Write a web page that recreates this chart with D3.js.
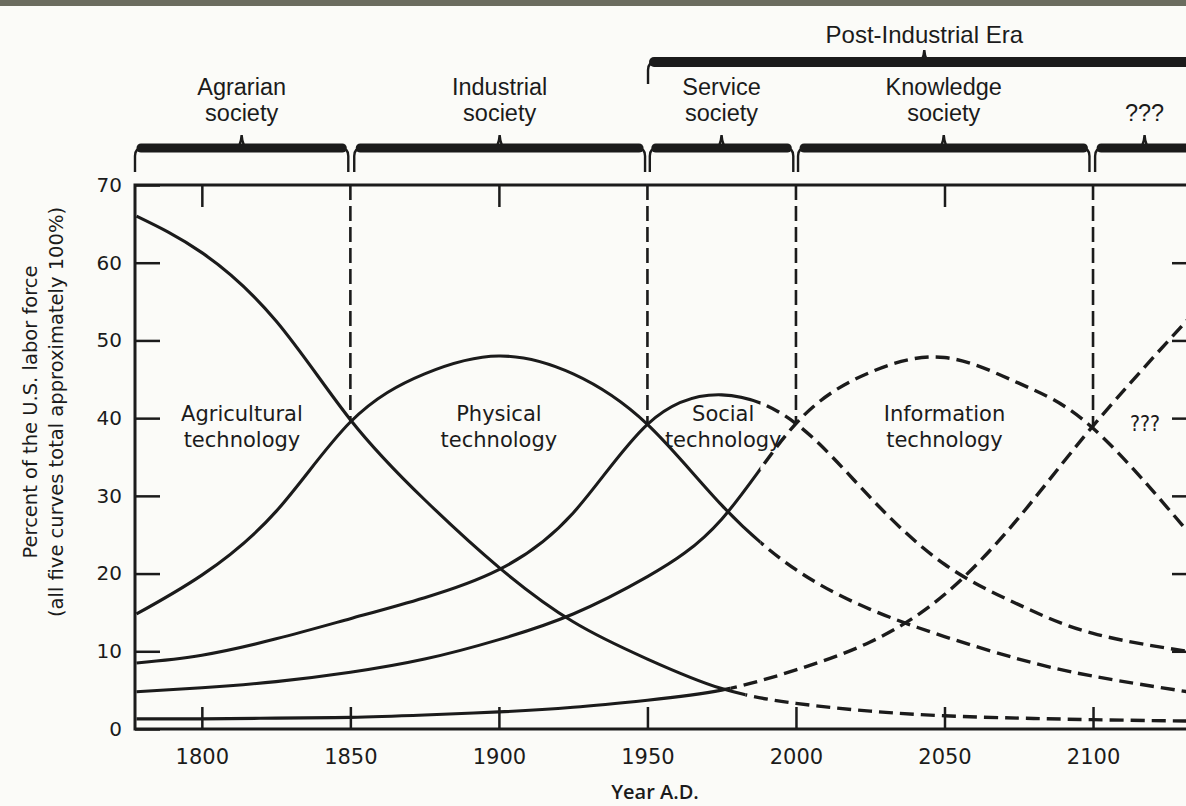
<!DOCTYPE html>
<html><head><meta charset="utf-8">
<script src="https://cdn.jsdelivr.net/npm/d3@7"></script>
<style>
html,body{margin:0;padding:0;background:#fbfbf8;}
svg{display:block;}
</style></head><body>
<svg id="chart" width="1186" height="806"></svg>
<script>
// ---------------- data ----------------
const years        = [1778, 1800, 1825, 1850, 1875, 1900, 1925, 1950, 1975, 2000, 2025, 2050, 2075, 2100, 2135];
const agricultural = [66,   61.3, 52.5, 39.8, 29.5, 20.8, 13.8, 9.0,  5.2,  3.3,  2.3,  1.7,  1.4,  1.2,  1.0];
const physical     = [14.8, 19.8, 28,   39.5, 45.7, 48,   45.7, 39.2, 28.8, 20.5, 15.4, 11.9, 9.0,  6.8,  4.6];
const social       = [8.5,  9.5,  11.6, 14.2, 16.9, 20.5, 27.8, 39.2, 43,   39.3, 29.8, 21.2, 16,   12.3, 9.8];
const information  = [4.8,  5.3,  6.1,  7.3,  9.0,  11.5, 14.8, 19.6, 27,   39.3, 45.9, 47.8, 44.5, 38.7, 24];
const unknownTech  = [1.3,  1.3,  1.4,  1.5,  1.8,  2.2,  2.8,  3.7,  5.0,  7.6,  11.2, 17.3, 27.2, 39,   54];
const seriesList   = [agricultural, physical, social, information, unknownTech];
const solidUntil   = [1983, 1988, 1988, 1988, 1978];   // after these years the curves are projections (dashed)

const techLabels   = [["Agricultural","technology"],["Physical","technology"],["Social","technology"],["Information","technology"],["???"]];
const techLabelYr  = [1813.5, 1900, 1975.5, 2050, 2117.5];

const xTicks       = [1800, 1850, 1900, 1950, 2000, 2050, 2100];
const topTicks     = [1800, 1900, 2050];
const yTicks       = [0, 10, 20, 30, 40, 50, 60, 70];
const dividerYears = [1850, 1950, 2000, 2100];
const dividerVals  = [39.6, 39.2, 39.3, 38.8];

const societies     = [["Agrarian","society"],["Industrial","society"],["Service","society"],["Knowledge","society"],["???"]];
const societySpans  = [[1777.5,1849.3],[1851.3,1949.2],[1950.8,1999.1],[2000.7,2098.8],[2100.7,2134]];
const eraLabel      = "Post-Industrial Era";
const eraSpan       = [1950.2, 2136.2];

const yTitle = ["Percent of the U.S. labor force", "(all five curves total approximately 100%)"];
const xTitle = "Year A.D.";

// ---------------- drawing ----------------
const W = 1186, H = 806;
const ink = "#1b1b1b";
const x = d3.scaleLinear().domain([1777.5, 2135]).range([135, 1197]);
const y = d3.scaleLinear().domain([0, 70]).range([729, 185]);

const svg = d3.select("#chart");
svg.append("rect").attr("width", W).attr("height", H).attr("fill", "#fbfbf8");
svg.append("rect").attr("width", W).attr("height", 6).attr("fill", "#6b6c5f");

const defs = svg.append("defs");

// frame
svg.append("rect")
  .attr("x", x.range()[0]).attr("y", y.range()[1])
  .attr("width", x.range()[1] - x.range()[0]).attr("height", y.range()[0] - y.range()[1])
  .attr("fill", "none").attr("stroke", ink).attr("stroke-width", 3);

// axes (ticks inside)
function styleAxis(g) {
  g.select(".domain").remove();
  g.selectAll(".tick line").attr("stroke", ink).attr("stroke-width", 2.5);
  g.selectAll(".tick text").attr("fill", ink);
}
svg.append("g").attr("transform", `translate(0,${y(0)})`)
  .call(d3.axisBottom(x).tickValues(xTicks).tickSizeInner(-22).tickSizeOuter(0).tickPadding(20).tickFormat(d3.format("d")))
  .call(styleAxis)
  .selectAll("text").style("font-family", "DejaVu Sans").style("font-size", "21px");

svg.append("g").attr("transform", `translate(0,${y(70)})`)
  .call(d3.axisTop(x).tickValues(topTicks).tickSizeInner(-22).tickSizeOuter(0).tickFormat(""))
  .call(styleAxis);

svg.append("g").attr("transform", `translate(${x.range()[0]},0)`)
  .call(d3.axisLeft(y).tickValues(yTicks).tickSizeInner(-25).tickSizeOuter(0).tickPadding(13))
  .call(styleAxis)
  .selectAll("text").style("font-family", "DejaVu Sans").style("font-size", "20px");

svg.append("g").attr("transform", `translate(${x.range()[1]},0)`)
  .call(d3.axisRight(y).tickValues(yTicks.slice(1, -1)).tickSizeInner(-25).tickSizeOuter(0).tickFormat(""))
  .call(styleAxis);

// vertical dashed era dividers
svg.append("g").selectAll("line").data(dividerYears).join("line")
  .attr("x1", d => x(d)).attr("x2", d => x(d))
  .attr("y1", y(70)).attr("y2", (d, i) => y(dividerVals[i]))
  .attr("stroke", ink).attr("stroke-width", 2.6).attr("stroke-dasharray", "15,6");

// curves
const line = d3.line()
  .x((d, i) => x(years[i]))
  .y(d => y(d))
  .curve(d3.curveNatural);

seriesList.forEach((vals, i) => {
  const cut = x(solidUntil[i]);
  defs.append("clipPath").attr("id", "solid" + i)
    .append("rect").attr("x", 0).attr("y", 0).attr("width", cut).attr("height", H);
  defs.append("clipPath").attr("id", "dash" + i)
    .append("rect").attr("x", cut).attr("y", 0).attr("width", W - cut).attr("height", H);
  svg.append("path").datum(vals).attr("d", line)
    .attr("clip-path", `url(#solid${i})`)
    .attr("fill", "none").attr("stroke", ink).attr("stroke-width", 3.1);
  svg.append("path").datum(vals).attr("d", line)
    .attr("clip-path", `url(#dash${i})`)
    .attr("fill", "none").attr("stroke", ink).attr("stroke-width", 3.4)
    .attr("stroke-dasharray", "14,7");
});

// curve labels
techLabels.forEach((lines, i) => {
  const two = lines.length > 1;
  const t = svg.append("text")
    .attr("x", x(techLabelYr[i]))
    .attr("y", two ? y(39.6) : y(38.4))
    .attr("text-anchor", "middle")
    .style("font-family", two ? "DejaVu Sans" : "DejaVu Sans Condensed")
    .style("font-size", "21px")
    .attr("fill", ink);
  lines.forEach((s, k) => {
    t.append("tspan").attr("x", x(techLabelYr[i])).attr("dy", k === 0 ? 0 : 26).text(s);
  });
});

// braces
function bracePath(x0, x1, yb, drop, spike) {
  const xc = (x0 + x1) / 2, r = 8;
  return `M${x0},${yb + drop} L${x0},${yb + r} Q${x0},${yb} ${x0 + r},${yb}` +
         ` L${xc - 7},${yb} Q${xc - 1},${yb} ${xc},${yb - spike} Q${xc + 1},${yb} ${xc + 7},${yb}` +
         ` L${x1 - r},${yb} Q${x1},${yb} ${x1},${yb + r} L${x1},${yb + drop}`;
}
function drawBrace(x0, x1, yb, drop, spike, thick) {
  const g = svg.append("g");
  g.append("path").attr("d", bracePath(x0, x1, yb, drop, spike))
    .attr("fill", "none").attr("stroke", ink).attr("stroke-width", 2.4);
  g.append("line").attr("x1", x0 + 6).attr("x2", x1 - 6).attr("y1", yb).attr("y2", yb)
    .attr("stroke", ink).attr("stroke-width", thick).attr("stroke-linecap", "round");
}

societySpans.forEach((s, i) => {
  drawBrace(x(s[0]), x(s[1]), 148, 24, 13, 9);
  const cx = (x(s[0]) + x(s[1])) / 2;
  const lines = societies[i];
  const t = svg.append("text").attr("text-anchor", "middle")
    .style("font-family", "Liberation Sans, Arial, sans-serif").style("font-size", "23.5px")
    .attr("fill", ink)
    .attr("y", lines.length > 1 ? 95 : 121);
  lines.forEach((str, k) => t.append("tspan").attr("x", cx).attr("dy", k === 0 ? 0 : 26).text(str));
});

drawBrace(x(eraSpan[0]), x(eraSpan[1]), 62, 22, 12, 10);
svg.append("text")
  .attr("x", (x(eraSpan[0]) + x(eraSpan[1])) / 2).attr("y", 43)
  .attr("text-anchor", "middle")
  .style("font-family", "Liberation Sans, Arial, sans-serif").style("font-size", "24px")
  .attr("fill", ink).text(eraLabel);

// axis titles
const ymid = (y(0) + y(70)) / 2 - 45;
yTitle.forEach((s, k) => {
  svg.append("text")
    .attr("transform", `translate(${37 + k * 26},${ymid}) rotate(-90)`)
    .attr("text-anchor", "middle")
    .style("font-family", "DejaVu Sans").style("font-size", "19.5px")
    .attr("fill", ink).text(s);
});
svg.append("text")
  .attr("x", 655).attr("y", 799).attr("text-anchor", "middle")
  .style("font-family", "Open Sans").style("font-weight", "600").style("font-size", "20px")
  .attr("fill", ink).text(xTitle);
</script>
</body></html>
